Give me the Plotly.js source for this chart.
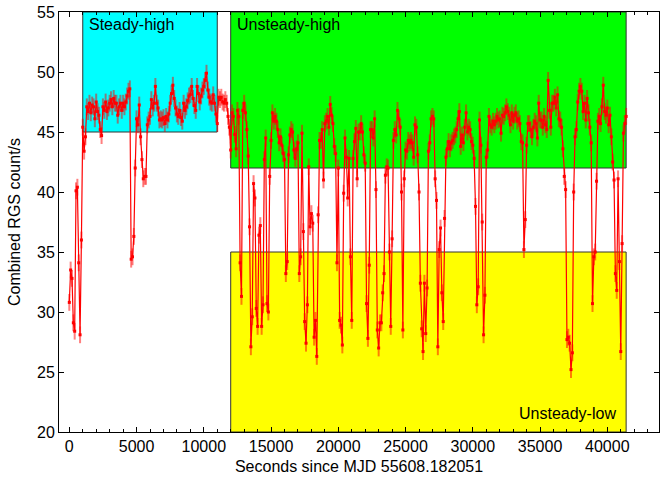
<!DOCTYPE html>
<html>
<head>
<meta charset="utf-8">
<script src="https://cdn.plot.ly/plotly-3.0.1.min.js"></script>
<style>html,body{margin:0;padding:0;background:#fff;}#chart{width:660px;height:480px;}</style>
</head>
<body>
<div id="chart"></div>
<script>
// Light curve: 100 s bins starting at t = 0 s (one row = 1000 s)
const binStart = 0;
const binWidth = 100;
const rates = [
  30.8, 33.5, 32.8, 29.1, 28.4, 40.1, 40.4, 34.1, 28.1, 36.0,
  45.4, 43.4, 44.6, 47.1, 46.7, 47.4, 46.6, 47.25, 47.1, 46.1,
  47.5, 46.7, 46.4, 45.2, 44.7, 47.1, 46.8, 47.5, 46.7, 47.0,
  47.4, 47.7, 47.1, 47.8, 47.4, 47.4, 46.4, 47.1, 47.4, 46.8,
  47.4, 47.1, 47.5, 48.0, 48.4, 48.6, 34.4, 34.6, 36.3, 42.0,
  46.1, 45.6, 47.25, 44.6, 42.7, 41.1, 41.3, 41.3, 45.6, 46.0,
  46.3, 47.7, 47.0, 47.4, 48.8, 47.4, 47.0, 46.0, 46.1, 46.0,
  46.2, 45.7, 46.3, 46.0, 46.5, 47.4, 48.2, 48.9, 47.8, 47.0,
  46.5, 46.3, 46.8, 46.2, 45.9, 47.4, 46.8, 47.1, 47.6, 48.0,
  48.1, 48.8, 47.8, 47.2, 46.8, 48.8, 48.2, 47.5, 48.0, 48.5,
  48.8, 49.3, 49.9, 48.5, 47.9, 47.5, 47.4, 48.1, 47.4, 46.5,
  45.7, 47.9, 47.7, 47.9, 47.5, 47.4, 47.7, 47.4, 46.3, 45.4,
  43.5, 46.6, 46.3, 44.8, 43.6, 46.8, 46.3, 34.1, 31.3, 46.8,
  47.4, 46.6, 45.2, 43.0, 37.1, 27.1, 29.6, 40.7, 39.5, 30.3,
  28.8, 36.4, 37.2, 28.8, 30.6, 42.7, 44.5, 30.7, 30.0, 41.3,
  44.3, 46.6, 45.9, 46.3, 45.9, 45.2, 44.1, 44.6, 43.9, 43.2,
  42.7, 33.2, 34.2, 43.1, 44.75, 45.2, 45.0, 43.5, 42.8, 43.6,
  44.1, 33.2, 34.6, 44.9, 36.7, 29.2, 27.4, 30.6, 42.1, 37.1,
  38.2, 37.4, 27.9, 29.3, 26.3, 38.1, 44.3, 44.3, 45.2, 41.0,
  45.7, 45.9, 46.3, 45.4, 47.3, 46.4, 45.7, 43.8, 43.2, 34.1,
  42.0, 29.3, 28.9, 27.25, 39.9, 44.5, 42.9, 39.5, 42.8, 34.6,
  29.3, 42.8, 44.2, 45.3, 41.1, 45.0, 45.0, 45.7, 45.0, 43.1,
  42.4, 30.7, 27.8, 33.9, 45.2, 45.2, 44.5, 46.1, 40.2, 28.5,
  27.0, 29.1, 29.1, 31.6, 33.2, 41.4, 42.1, 42.0, 35.0, 28.8,
  36.1, 44.3, 45.2, 44.75, 46.8, 46.1, 45.4, 40.0, 28.5, 41.1,
  43.5, 43.4, 44.3, 44.1, 44.3, 44.1, 42.9, 45.6, 45.4, 43.1,
  40.0, 32.4, 28.6, 26.7, 32.4, 28.2, 32.0, 43.4, 44.1, 46.1,
  46.3, 46.1, 41.1, 39.3, 27.1, 35.2, 37.0, 31.6, 29.2, 37.8,
  42.9, 43.6, 44.2, 43.6, 44.1, 44.3, 44.6, 44.75, 45.2, 46.1,
  46.7, 43.8, 44.75, 44.1, 45.4, 46.6, 45.0, 45.4, 45.2, 44.2,
  43.9, 42.8, 38.8, 30.6, 32.1, 46.0, 43.9, 37.5, 28.1, 31.4,
  42.9, 43.5, 46.3, 45.6, 45.4, 45.9, 45.6, 45.9, 46.3, 46.0,
  46.1, 44.9, 46.4, 46.3, 46.6, 47.1, 46.7, 46.4, 45.6, 46.6,
  45.9, 46.4, 46.6, 45.9, 46.1, 45.7, 44.2, 44.1, 35.2, 37.7,
  43.9, 45.7, 45.7, 45.2, 44.6, 45.4, 45.9, 45.7, 44.5, 47.4,
  46.0, 46.0, 45.4, 46.3, 45.6, 45.2, 49.3, 46.8, 45.4, 47.4,
  47.4, 47.9, 47.0, 48.1, 46.1, 46.0, 45.4, 43.6, 41.3, 40.2,
  27.7, 27.9, 27.4, 25.2, 26.6, 40.0, 44.6, 45.2, 47.5, 48.4,
  48.8, 48.4, 46.7, 47.4, 46.0, 47.8, 46.6, 45.4, 44.1, 30.7,
  34.6, 35.0, 40.9, 45.9, 46.3, 45.7, 47.1, 48.9, 46.7, 46.4,
  47.0, 45.6, 46.4, 44.6, 42.5, 41.0, 33.2, 31.8, 41.1, 34.2,
  26.7, 35.7, 44.9, 45.7, 46.3
];
const rateError = 0.7;

// Regions
const regionNames  = ["Steady-high", "Unsteady-high", "Unsteady-low"];
const regionStart  = [1000, 12000, 12000];
const regionEnd    = [11000, 41400, 41400];
const regionLow    = [45, 42, 20];
const regionHigh   = [55, 55, 35];
const regionColors = ["#00ffff", "#00ff00", "#ffff00"];

const xRange = [-766, 43843];
const yRange = [20, 55];

const shapes = regionNames.map((n, i) => ({
  type: "rect", xref: "x", yref: "y", layer: "below",
  x0: regionStart[i], x1: regionEnd[i], y0: regionLow[i], y1: regionHigh[i],
  fillcolor: regionColors[i], line: {color: "#333333", width: 1}
}));

const annotations = [
  {text: regionNames[0], x: regionStart[0], y: regionHigh[0], xanchor: "left", yanchor: "top", xshift: 4, yshift: -2},
  {text: regionNames[1], x: regionStart[1], y: regionHigh[1], xanchor: "left", yanchor: "top", xshift: 4, yshift: -2},
  {text: regionNames[2], x: regionEnd[2], y: regionLow[2], xanchor: "right", yanchor: "bottom", xshift: -8, yshift: 8}
].map(a => Object.assign({xref: "x", yref: "y", showarrow: false, font: {size: 16, color: "#000"}}, a));

const trace = {
  type: "scatter", mode: "lines+markers",
  x0: binStart, dx: binWidth, y: rates,
  line: {color: "#ff0000", width: 1.2},
  marker: {color: "#ff0000", size: 3, symbol: "square"},
  error_y: {type: "constant", value: rateError, color: "rgba(255,0,0,0.5)", thickness: 2, width: 0},
  hoverinfo: "skip"
};

const axisCommon = {
  showline: true, linecolor: "#000", linewidth: 1, mirror: "ticks",
  ticks: "inside", ticklen: 5, tickcolor: "#000", tickwidth: 1,
  showgrid: false, zeroline: false,
  tickfont: {size: 16, color: "#000"}
};

const layout = {
  width: 660, height: 480,
  margin: {l: 59, r: 1, t: 12, b: 48},
  paper_bgcolor: "#fff", plot_bgcolor: "#fff",
  font: {family: "Liberation Sans, Arial, Helvetica, sans-serif", size: 16, color: "#000"},
  showlegend: false,
  xaxis: Object.assign({}, axisCommon, {
    range: xRange, dtick: 5000, tick0: 0, tickformat: "d",
    minor: {dtick: 1000, ticks: "inside", ticklen: 3, tickcolor: "#000", showgrid: false},
    title: {text: "Seconds since MJD 55608.182051", font: {size: 16}, standoff: 6}
  }),
  yaxis: Object.assign({}, axisCommon, {
    range: yRange, dtick: 5, tick0: 20,
    title: {text: "Combined RGS count/s", font: {size: 16}, standoff: 12}
  }),
  shapes: shapes,
  annotations: annotations
};

Plotly.newPlot("chart", [trace], layout, {staticPlot: true, displayModeBar: false});
</script>
</body>
</html>
